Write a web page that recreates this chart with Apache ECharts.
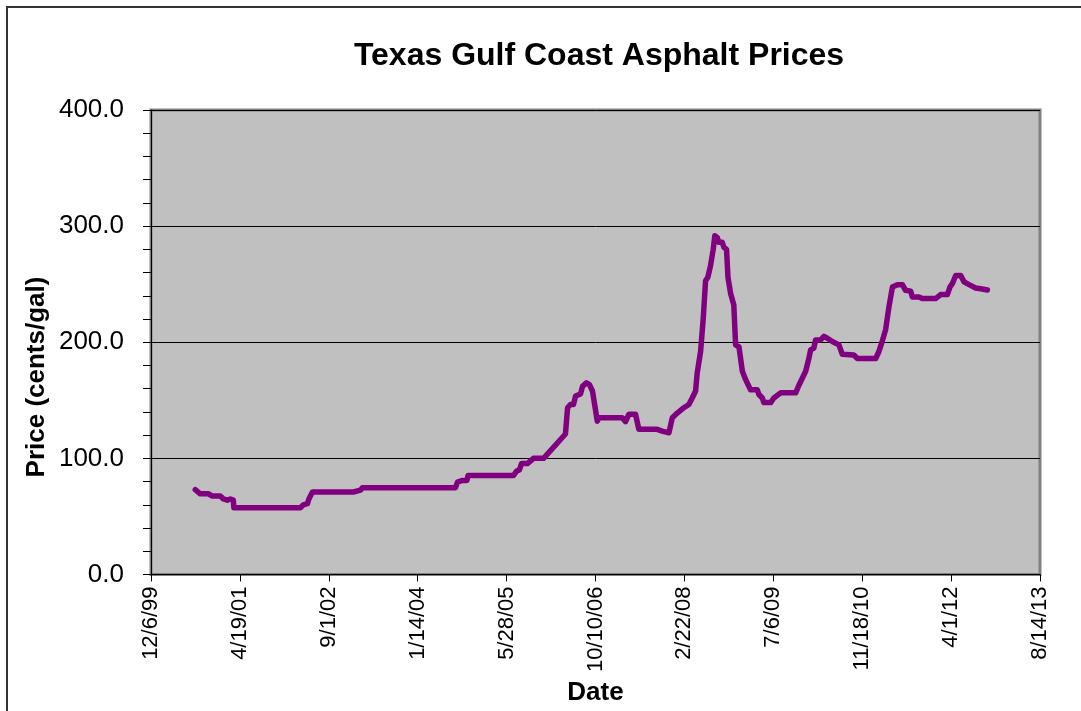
<!DOCTYPE html>
<html>
<head>
<meta charset="utf-8">
<script src="https://cdn.jsdelivr.net/npm/echarts@6/dist/echarts.min.js"></script>
<style>
  html, body { margin: 0; padding: 0; background: #fff; }
  #chart { width: 1081px; height: 711px; }
</style>
</head>
<body>
<div id="chart"></div>
<script>
// ---- Data ----
const titleText = "Texas Gulf Coast Asphalt Prices";
const xAxisName = "Date";
const yAxisName = "Price (cents/gal)";

const dates = [
  "2000-08-11","2000-09-08","2000-10-23","2000-11-15","2000-12-30","2001-01-16","2001-02-07","2001-02-24",
  "2001-03-13","2001-03-16","2002-03-25","2002-04-11","2002-05-04","2002-05-12","2002-06-01","2003-01-17",
  "2003-02-26","2003-03-09","2004-08-13","2004-08-25","2004-09-22","2004-10-17","2004-10-23","2005-07-06",
  "2005-07-23","2005-08-08","2005-08-20","2005-09-22","2005-10-26","2005-12-22","2006-04-24","2006-05-06",
  "2006-05-22","2006-06-08","2006-06-20","2006-07-18","2006-07-29","2006-08-20","2006-09-06","2006-09-23",
  "2006-10-20","2006-10-29","2007-03-09","2007-03-28","2007-04-07","2007-04-16","2007-05-23","2007-06-11",
  "2007-09-22","2007-10-20","2007-11-27","2007-12-16","2008-01-13","2008-02-19","2008-03-18","2008-04-06",
  "2008-04-25","2008-05-04","2008-05-23","2008-06-07","2008-06-20","2008-07-03","2008-07-18","2008-08-02",
  "2008-08-11","2008-08-25","2008-09-03","2008-09-22","2008-10-01","2008-10-16","2008-10-24","2008-11-08",
  "2008-11-26","2008-12-06","2008-12-25","2009-01-13","2009-01-31","2009-02-28","2009-04-07","2009-04-16",
  "2009-05-05","2009-05-14","2009-06-21","2009-07-09","2009-08-16","2009-11-09","2009-11-27","2009-12-16",
  "2010-01-04","2010-01-22","2010-02-01","2010-02-19","2010-03-01","2010-03-29","2010-04-17","2010-05-06",
  "2010-06-03","2010-07-10","2010-07-29","2010-10-02","2010-10-22","2011-02-02","2011-02-20","2011-03-11",
  "2011-03-30","2011-04-17","2011-05-07","2011-06-04","2011-07-02","2011-07-20","2011-08-18","2011-08-27",
  "2011-10-03","2011-10-22","2012-01-05","2012-02-02","2012-03-11","2012-03-26","2012-04-08","2012-04-27",
  "2012-05-25","2012-06-13","2012-07-11","2012-08-17","2012-09-14","2012-10-22"
];
const prices = [
  73, 69.5, 69.5, 67.5, 67.5, 65, 64, 65,
  64, 57.5, 57.5, 60, 61, 65, 71, 71,
  72.6, 74.6, 74.6, 79.5, 81, 81, 85.2, 85.2,
  89, 90, 95.5, 95.5, 100, 100, 121, 143.6,
  146.4, 146.4, 153.6, 155.5, 162, 165, 163.5, 158,
  132, 135, 135, 131.6, 131.6, 138, 138, 125,
  125, 123.5, 122, 135, 139, 143.6, 146.4, 152,
  158, 173.5, 192, 220.5, 253, 256, 266, 280,
  291.7, 290, 286, 286, 281.8, 280, 256, 242,
  232, 197.7, 196, 175, 168, 159, 159, 155,
  152, 148, 148, 152, 156.4, 156.4, 163, 169,
  175, 186, 193.4, 195, 202, 202, 205, 203.4,
  200.6, 197.7, 189.7, 189, 186, 186, 192, 201,
  211, 230, 247.6, 249.6, 249.6, 244.7, 244, 239,
  239, 237.6, 237.6, 241, 241, 247.6, 250.4, 257.5,
  257.5, 252, 249.6, 246.7, 246, 245
];

// Axis settings (Excel date serials: 36500 = 12/6/99, step 500 days)
const xMin = 36500, xMax = 41500, xStep = 500;
const yMin = 0, yMax = 400, yStep = 100;

// ---- Helpers ----
const EPOCH = Date.UTC(1899, 11, 30);
function toSerial(iso) {
  const p = iso.split("-").map(Number);
  return (Date.UTC(p[0], p[1] - 1, p[2]) - EPOCH) / 86400000;
}
function serialLabel(s) {
  const d = new Date(EPOCH + s * 86400000);
  const yy = String(d.getUTCFullYear() % 100).padStart(2, "0");
  return (d.getUTCMonth() + 1) + "/" + d.getUTCDate() + "/" + yy;
}

const seriesData = dates.map((d, i) => [toSerial(d), prices[i]]);
const FONT = "'Liberation Sans', Arial, sans-serif";

const chart = echarts.init(document.getElementById("chart"), null, { renderer: "canvas" });
chart.setOption({
  animation: false,
  backgroundColor: "#ffffff",
  title: {
    text: titleText,
    left: 594, top: 35, textAlign: "center",
    textStyle: { fontFamily: FONT, fontSize: 32, fontWeight: "bold", color: "#000" }
  },
  graphic: [{
    type: "rect", silent: true, z: -1,
    shape: { x: 7, y: 7, width: 1200, height: 900 },
    style: { fill: "none", stroke: "#333", lineWidth: 2 }
  }, {
    type: "text", silent: true,
    x: 37, y: 377, rotation: Math.PI / 2,
    style: {
      text: yAxisName, fontFamily: FONT, fontSize: 26, fontWeight: "bold", fill: "#000",
      align: "center", verticalAlign: "middle"
    }
  }],
  grid: {
    left: 151, right: 41, top: 110, bottom: 133,
    show: true, backgroundColor: "#c0c0c0", borderColor: "#808080", borderWidth: 3
  },
  xAxis: {
    type: "value", min: xMin, max: xMax, interval: xStep,
    name: xAxisName, nameLocation: "middle", nameGap: 98,
    nameTextStyle: { fontFamily: FONT, fontSize: 26, fontWeight: "bold", color: "#000" },
    axisLine: { onZero: false, lineStyle: { color: "#000", width: 1 } },
    axisTick: { show: true, inside: false, length: 7, lineStyle: { color: "#000" } },
    splitLine: { show: false },
    axisLabel: {
      rotate: 90, margin: 12, fontFamily: FONT, fontSize: 22, color: "#000",
      showMinLabel: true, showMaxLabel: true,
      formatter: (v) => serialLabel(v)
    }
  },
  yAxis: {
    type: "value", min: yMin, max: yMax, interval: yStep,
    axisLine: { show: true, lineStyle: { color: "#000", width: 1 } },
    axisTick: { show: true, inside: false, length: 8, lineStyle: { color: "#000" } },
    minorTick: { show: true, splitNumber: 5, length: 8, lineStyle: { color: "#000" } },
    splitLine: { show: true, lineStyle: { color: "#000", width: 1 } },
    axisLabel: {
      margin: 27, fontFamily: FONT, fontSize: 26, color: "#000",
      formatter: (v) => v.toFixed(1)
    }
  },
  series: [{
    type: "line",
    data: seriesData,
    symbol: "none",
    smooth: false,
    lineStyle: { color: "#800080", width: 5.5, join: "round", cap: "round" }
  }]
});
</script>
</body>
</html>
